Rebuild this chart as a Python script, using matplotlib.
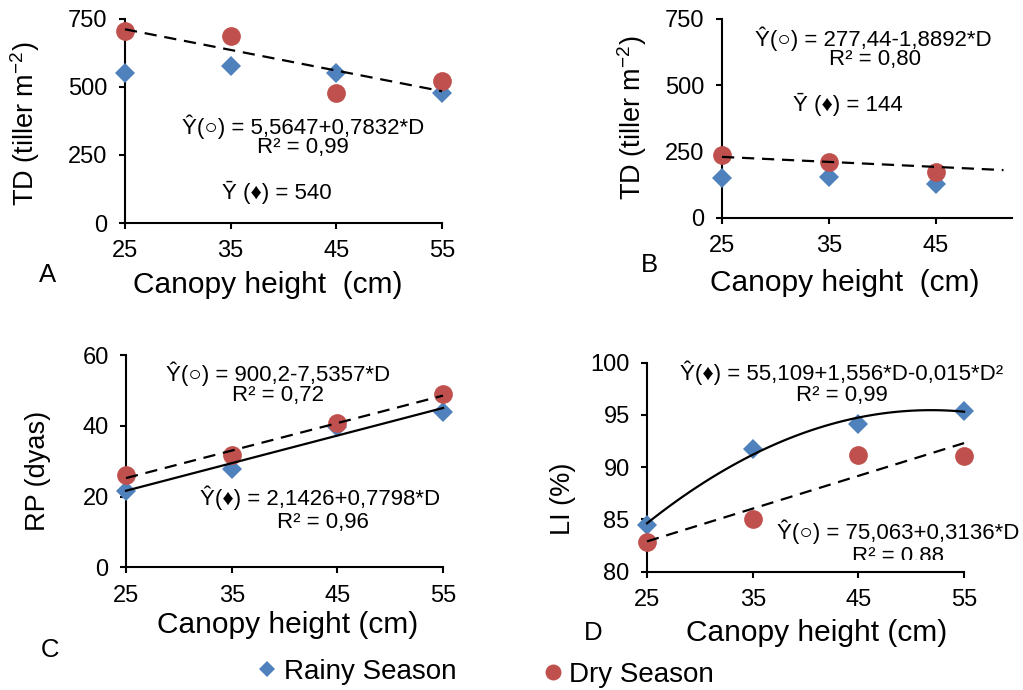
import numpy as np
import matplotlib
matplotlib.use('Agg')
import matplotlib.pyplot as plt
from matplotlib.transforms import Bbox, TransformedBbox

plt.rcParams['font.family'] = ['Liberation Sans', 'DejaVu Sans']
plt.rcParams['mathtext.fontset'] = 'custom'
plt.rcParams['mathtext.rm'] = 'Liberation Sans'
plt.rcParams['mathtext.it'] = 'Liberation Sans:italic'

# canopy heights (cm)
heights = [25, 35, 45, 55]
heights_b = [25, 35, 45]

# tiller density, panel A and B
td_rainy_a = [551, 578, 553, 477]
td_dry_a = [706, 687, 477, 523]
td_rainy_b = [150, 153, 127]
td_dry_b = [237, 212, 174]

# rest period (days), panel C
rp_rainy = [21.6, 27.7, 39.6, 44.0]
rp_dry = [26.1, 31.7, 40.7, 49.0]

# light interception (%), panel D
li_rainy = [84.5, 91.7, 94.1, 95.4]
li_dry = [82.8, 85.0, 91.2, 91.1]

# trendline coefficients from the equations in the figure
b_dry_coef = [277.44, -1.8892]
c_rainy_coef = [2.1426, 0.7798]
d_rainy_coef = [55.109, 1.556, -0.015]
d_dry_coef = [75.063, 0.3136]
b_trend_end = 51.3

blue = '#4F81BD'
red = '#C0504D'
dash = (0, (5.5, 3.5))

fig = plt.figure(figsize=(10.23, 6.9), dpi=100)
axA = fig.add_axes([0.1222, 0.6768, 0.3099, 0.2957])
axB = fig.add_axes([0.7058, 0.6841, 0.2835, 0.2884])
axC = fig.add_axes([0.1232, 0.1778, 0.3099, 0.3077])
axD = fig.add_axes([0.6325, 0.1714, 0.3099, 0.3029])


def style_axis(ax, xlim, ylim, xticks, yticks):
    ax.set_xlim(xlim)
    ax.set_ylim(ylim)
    ax.set_xticks(xticks)
    ax.set_yticks(yticks)
    for s in ['top', 'right']:
        ax.spines[s].set_visible(False)
    for s in ['left', 'bottom']:
        ax.spines[s].set_linewidth(1.5)
    ax.tick_params(direction='out', length=4.5, width=1.5, labelsize=17, pad=8)
    ax.patch.set_alpha(0)


def points(ax, x, rainy, dry):
    ax.plot(x, rainy, 'D', color=blue, ms=10, mew=0, clip_on=False, zorder=3,
            label='Rainy Season')
    ax.plot(x, dry, 'o', color=red, ms=13.5, mew=0, clip_on=False, zorder=3,
            label='Dry Season')


def labels(ax, xl, xpos, yl, ypos, letter, lpos):
    ax.set_xlabel(xl, fontsize=21.5, va='center')
    ax.xaxis.set_label_coords(*xpos)
    ax.set_ylabel(yl, fontsize=19.5, va='center')
    ax.yaxis.set_label_coords(*ypos)
    ax.text(lpos[0], lpos[1], letter, transform=ax.transAxes, fontsize=18.5,
            ha='center', va='center')


def note(ax, x, y, s, clip=False):
    return ax.text(x, y, s, transform=ax.transAxes, fontsize=16, ha='center',
                   va='center', clip_on=clip)


# ---- A
style_axis(axA, (25, 55), (0, 750), heights, [0, 250, 500, 750])
points(axA, heights, td_rainy_a, td_dry_a)
fitA = np.polyfit(heights, td_dry_a, 1)
xa = np.array([25, 55])
axA.plot(xa, np.polyval(fitA, xa), color='black', lw=1.6, ls=dash, zorder=4,
         clip_on=False)
note(axA, 0.562, 0.471, 'Ŷ(○) = 5,5647+0,7832*D')
note(axA, 0.562, 0.368, 'R² = 0,99')
note(axA, 0.479, 0.152, 'Ȳ (♦) = 540')
labels(axA, 'Canopy height  (cm)', (0.451, -0.304), 'TD (tiller m$^{-2}$)',
       (-0.315, 0.485), 'A', (-0.246, -0.255))

# ---- B
style_axis(axB, (25, 52.1), (0, 750), heights_b, [0, 250, 500, 750])
points(axB, heights_b, td_rainy_b, td_dry_b)
xb = np.array([25, b_trend_end])
axB.plot(xb, b_dry_coef[0] + b_dry_coef[1] * xb, color='black', lw=1.6, ls=dash,
         zorder=4, clip_on=False)
note(axB, 0.521, 0.899, 'Ŷ(○) = 277,44-1,8892*D')
note(axB, 0.528, 0.794, 'R² = 0,80')
note(axB, 0.434, 0.573, 'Ȳ (♦) = 144')
labels(axB, 'Canopy height  (cm)', (0.424, -0.327), 'TD (tiller m$^{-2}$)',
       (-0.310, 0.505), 'B', (-0.252, -0.236))

# ---- C
style_axis(axC, (25, 55), (0, 60), heights, [0, 20, 40, 60])
points(axC, heights, rp_rainy, rp_dry)
fitC = np.polyfit(heights, rp_dry, 1)
xc = np.array([25, 55])
axC.plot(xc, np.polyval(fitC, xc), color='black', lw=1.6, ls=dash, zorder=4,
         clip_on=False)
axC.plot(xc, c_rainy_coef[0] + c_rainy_coef[1] * xc, color='black', lw=1.6,
         zorder=4, clip_on=False)
note(axC, 0.479, 0.911, 'Ŷ(○) = 900,2-7,5357*D')
note(axC, 0.479, 0.807, 'R² = 0,72')
note(axC, 0.612, 0.326, 'Ŷ(♦) = 2,1426+0,7798*D')
note(axC, 0.621, 0.213, 'R² = 0,96')
labels(axC, 'Canopy height (cm)', (0.511, -0.271), 'RP (dyas)',
       (-0.278, 0.455), 'C', (-0.240, -0.389))

# ---- D
style_axis(axD, (25, 55), (80, 100), heights, [80, 85, 90, 95, 100])
points(axD, heights, li_rainy, li_dry)
xd = np.linspace(25, 55, 120)
axD.plot(xd, d_rainy_coef[0] + d_rainy_coef[1] * xd + d_rainy_coef[2] * xd ** 2,
         color='black', lw=1.6, zorder=4, clip_on=False)
xd2 = np.array([25, 55])
axD.plot(xd2, d_dry_coef[0] + d_dry_coef[1] * xd2, color='black', lw=1.6,
         ls=dash, zorder=4, clip_on=False)
note(axD, 0.615, 0.951, 'Ŷ(♦) = 55,109+1,556*D-0,015*D²')
note(axD, 0.615, 0.841, 'R² = 0,99')
note(axD, 0.792, 0.190, 'Ŷ(○) = 75,063+0,3136*D')
r2 = note(axD, 0.792, 0.072, 'R² = 0,88')
# the label box is cut off just above the axis in the original
r2.set_clip_box(TransformedBbox(Bbox([[0, 0.056], [1, 1]]), axD.transAxes))
r2.set_clip_on(True)
labels(axD, 'Canopy height (cm)', (0.536, -0.294), 'LI (%)',
       (-0.265, 0.348), 'D', (-0.170, -0.294))

# ---- legend (two separate entries at the bottom)
h, l = axC.get_legend_handles_labels()
common = dict(frameon=False, fontsize=20, borderpad=0, borderaxespad=0,
              handlelength=0.6, handletextpad=0.3, markerscale=0.85,
              loc='center left')
fig.legend([h[0]], [l[0]], bbox_to_anchor=(0.2527, 0.0261), **common)
fig.legend([h[1]], [l[1]], bbox_to_anchor=(0.532, 0.0217), **common)

fig.savefig('out.png', dpi=100)
